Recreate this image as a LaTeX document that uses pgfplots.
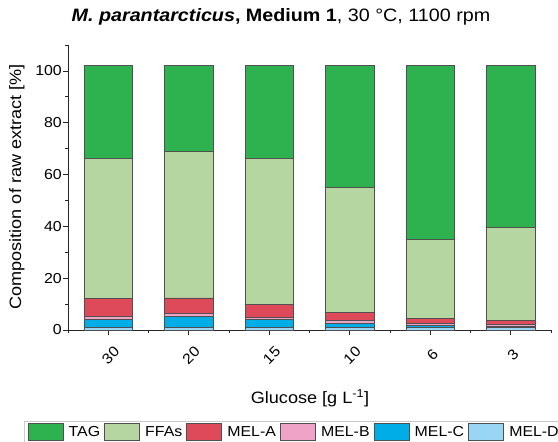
\documentclass[border=0pt]{standalone}
\usepackage{pgfplots}
\pgfplotsset{compat=1.18}
\usepackage{pgfplotstable}
\usepackage{fontspec}
\setmainfont{Liberation Sans}[FakeStretch=1.1]

\definecolor{cTAG}{HTML}{2EB24F}
\definecolor{cFFA}{HTML}{B5D6A0}
\definecolor{cMA}{HTML}{DE4A5A}
\definecolor{cMB}{HTML}{EFA3C7}
\definecolor{cMC}{HTML}{00ADE6}
\definecolor{cMD}{HTML}{99D6F5}
\definecolor{edge}{HTML}{505050}

\pgfplotstableread{
x D C B A F T
0 1.0 3.1 1.0 7.1 54.1 35.7
1 1.0 4.3 1.0 6.1 56.5 33.1
2 1.0 3.0 0.9 5.0 56.4 35.7
3 1.0 1.7 1.0 3.0 48.3 47.0
4 1.0 0.7 0.7 2.1 30.4 67.1
5 0.9 0.6 0.8 1.3 36.1 62.3
}\data

\begin{document}
\begin{tikzpicture}
\begin{axis}[
  name=ax,
  scale only axis,
  width=483bp, height=285bp,
  ybar stacked,
  bar width=0.6,
  xmin=-0.5, xmax=5.5,
  ymin=0, ymax=110,
  axis x line*=bottom,
  axis y line*=left,
  axis line style={line width=0.8bp, black!85},
  tick align=outside,
  major tick length=5bp,
  minor tick length=3bp,
  tick style={line width=0.8bp, black!85},
  xtick={0,...,5},
  xticklabels={30,20,15,10,6,3},
  minor xtick={-0.5,0.5,...,5.5},
  ytick={0,20,...,100},
  minor ytick={10,30,...,110},
  /pgf/number format/assume math mode=true,
  tick label style={font=\fontsize{14.5}{16}\selectfont},
  yticklabel style={inner xsep=1bp},
  xticklabel style={rotate=45, anchor=center, yshift=-16bp, xshift=-12.7bp},
  title={{\bfseries\itshape M. parantarcticus}{\bfseries , Medium 1}, 30 °C, 1100 rpm},
  title style={at={(axis description cs:0.441,1.077)}, anchor=center, font=\fontsize{18}{20}\selectfont},
  xlabel={Glucose [g L\textsuperscript{-1}]},
  xlabel style={at={(axis description cs:0.501,-0.24)}, anchor=center, font=\fontsize{16.5}{18}\selectfont},
  ylabel={Composition of raw extract [\%]},
  ylabel style={at={(axis description cs:-0.1056,0.502)}, anchor=center, font=\fontsize{16.5}{18}\selectfont},
  reverse legend,
  legend columns=6,
  legend image code/.code={\draw[#1, draw=edge, line width=0.6bp] (0bp,-8.5bp) rectangle (35bp,8.5bp);},
  legend style={at={(axis description cs:-0.091,-0.318)}, anchor=north west,
    draw=black!20, line width=1bp, font=\fontsize{14.5}{17}\selectfont,
    inner xsep=3bp, inner ysep=2bp,
    /tikz/every odd column/.append style={column sep=2.5bp},
    /tikz/every even column/.append style={column sep=1bp},
    nodes={inner xsep=3bp}},
  every axis plot/.append style={draw=edge, line width=0.6bp},
]
\addplot[fill=cMD] table[x=x,y=D]{\data};
\addplot[fill=cMC] table[x=x,y=C]{\data};
\addplot[fill=cMB] table[x=x,y=B]{\data};
\addplot[fill=cMA] table[x=x,y=A]{\data};
\addplot[fill=cFFA] table[x=x,y=F]{\data};
\addplot[fill=cTAG] table[x=x,y=T]{\data};
\legend{MEL-D,MEL-C,MEL-B,MEL-A,FFAs,TAG}
\end{axis}
\pgfresetboundingbox
\path[use as bounding box] ([shift={(-68bp,-112bp)}]ax.south west) rectangle ++(558bp,442bp);
\end{tikzpicture}
\end{document}
